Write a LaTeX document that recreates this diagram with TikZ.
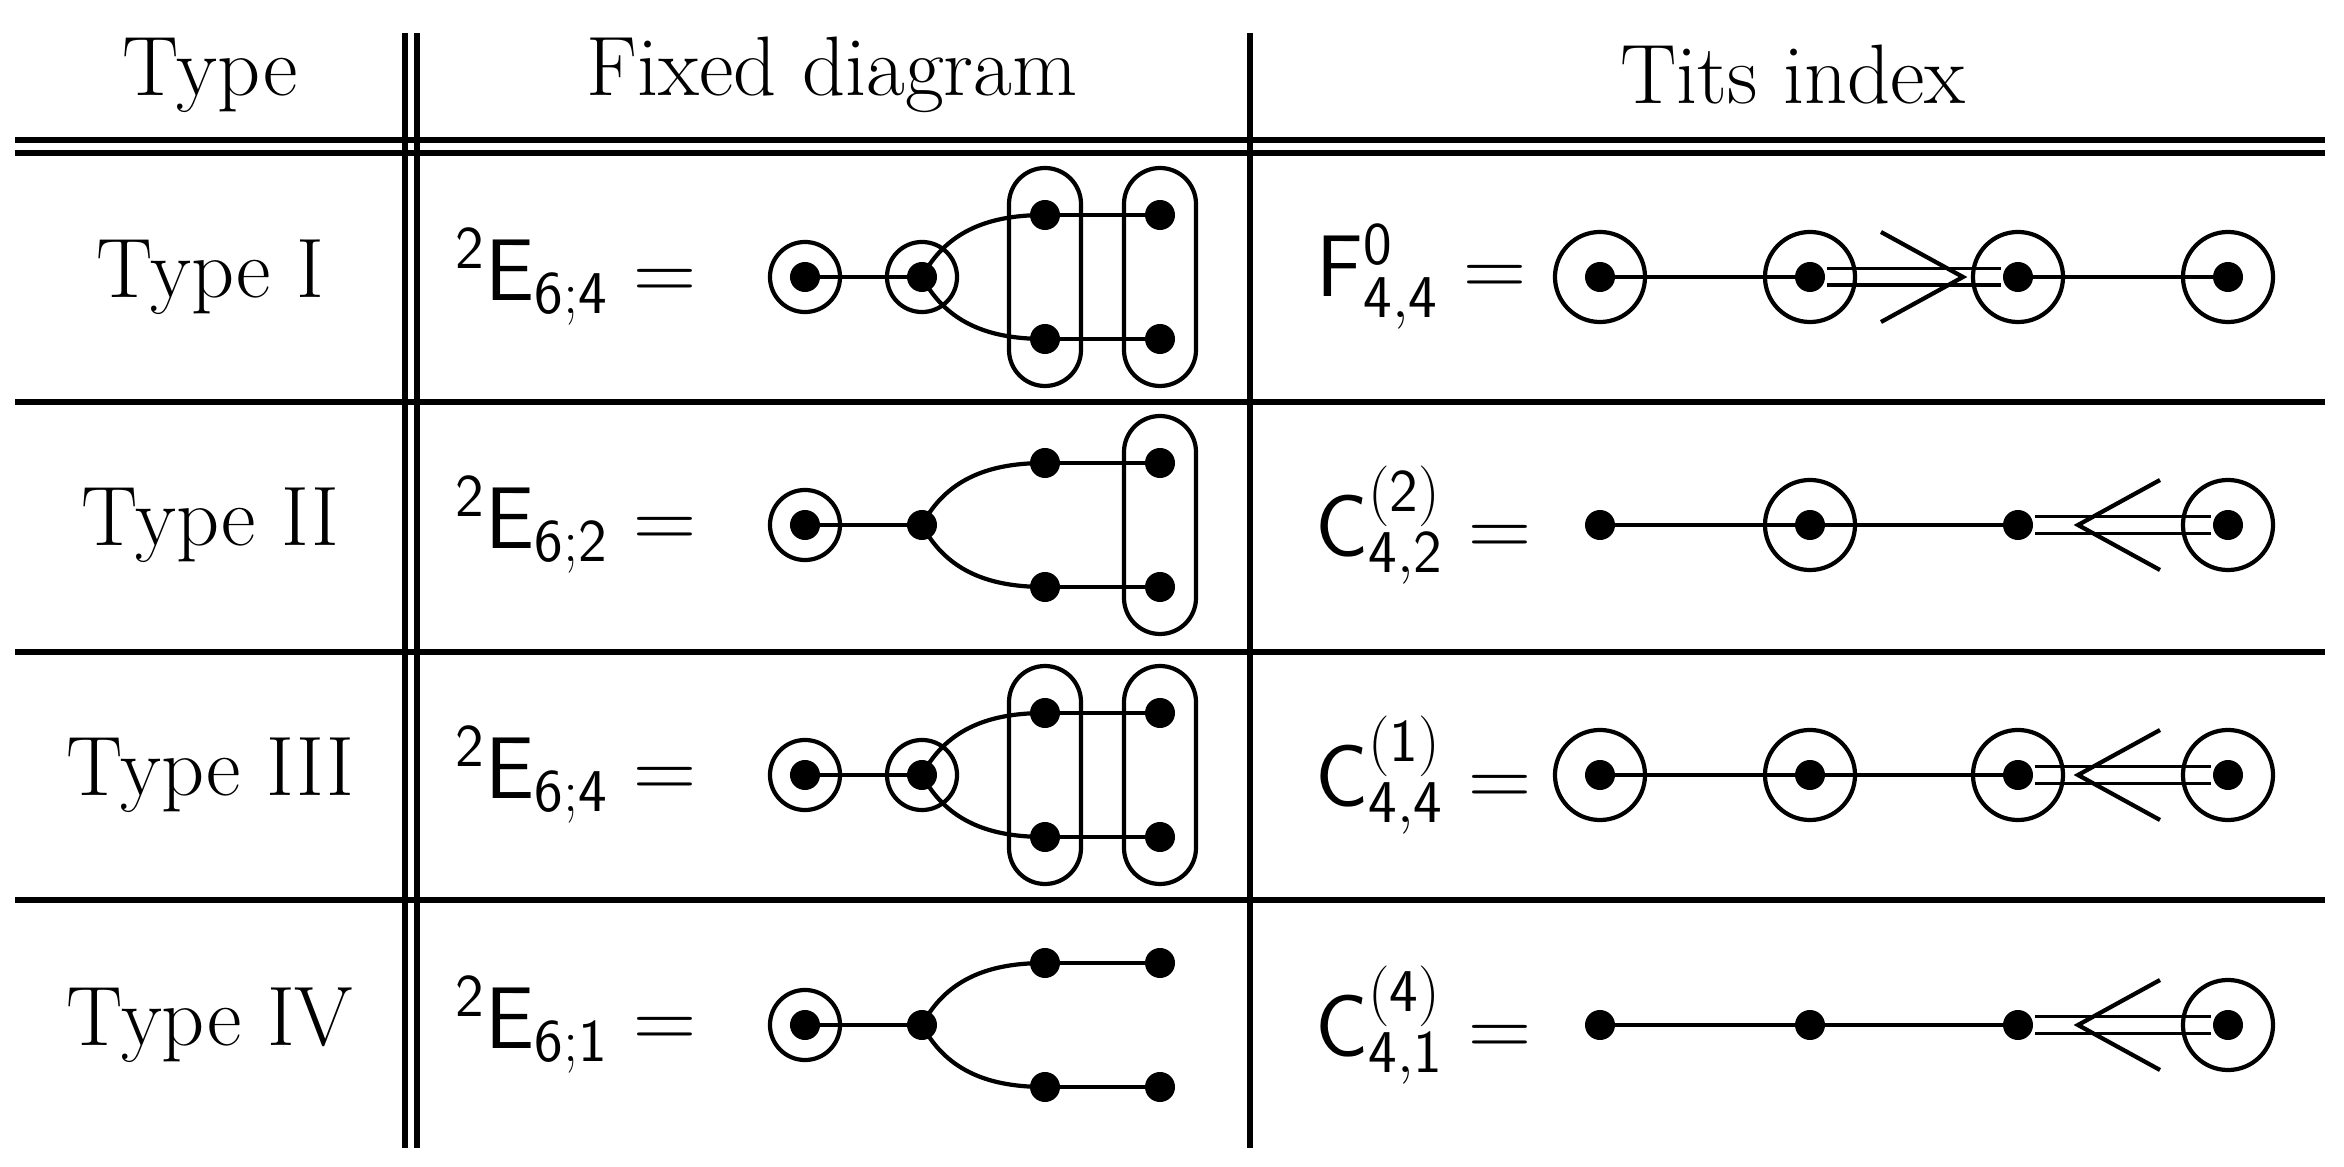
\documentclass[tikz,border=0pt]{standalone}
\begin{document}
\begin{tikzpicture}[x=0.01cm,y=-0.01cm,line width=1.2pt,
  dot/.style={circle,fill,inner sep=0pt,minimum size=0.3cm},
  ringA/.style={circle,draw,inner sep=0pt,minimum size=0.7cm},
  ringB/.style={circle,draw,inner sep=0pt,minimum size=0.9cm},
  txt/.style={font=\fontsize{24}{28}\selectfont},
  rule/.style={line width=1.8pt},
  dbl/.style={double distance=0.13cm,line width=1.1pt}]
\useasboundingbox (0,0) rectangle (2344,1167);
% table rules
\draw[rule] (405,33) -- (405,1148);
\draw[rule] (417,33) -- (417,1148);
\draw[rule] (1250,33) -- (1250,1148);
\draw[rule] (15,140) -- (2325,140);
\draw[rule] (15,153) -- (2325,153);
\foreach \y in {402,652,900} \draw[rule] (15,\y) -- (2325,\y);
% headers
\node[txt] (h1) at (210,75) {Type};
\node[txt] (h2) at (832,75) {Fixed diagram};
\node[txt] (h3) at (1793,75) {Tits index};
% type names
\node[txt] (t1) at (210,277) {Type I};
\node[txt] (t2) at (210,525) {Type II};
\node[txt] (t3) at (210,775) {Type III};
\node[txt] (t4) at (210,1025) {Type IV};
% fixed diagram labels
\node[txt,anchor=east] (l1) at (710,277) {$^{\mathsf{2}}\mathsf{E}_{\mathsf{6;4}}=$};
\node[txt,anchor=east] (l2) at (710,525) {$^{\mathsf{2}}\mathsf{E}_{\mathsf{6;2}}=$};
\node[txt,anchor=east] (l3) at (710,775) {$^{\mathsf{2}}\mathsf{E}_{\mathsf{6;4}}=$};
\node[txt,anchor=east] (l4) at (710,1025) {$^{\mathsf{2}}\mathsf{E}_{\mathsf{6;1}}=$};
% fixed diagrams
\foreach \r/\y/\a/\b/\c in {1/277/1/1/1, 2/525/0/0/1, 3/775/1/1/1, 4/1025/0/0/0}{
  \node[dot] (f\r a) at (805,\y) {};
  \node[dot] (f\r b) at (922,\y) {};
  \node[dot] (f\r c) at (1045,\y-62) {};
  \node[dot] (f\r d) at (1160,\y-62) {};
  \node[dot] (f\r e) at (1045,\y+62) {};
  \node[dot] (f\r f) at (1160,\y+62) {};
  \draw (f\r a.center) circle[radius=0.35cm];
  \draw (f\r a.center) -- (f\r b.center);
  \draw (f\r b.center) to[out=62,in=180] (f\r c.center);
  \draw (f\r b.center) to[out=-62,in=180] (f\r e.center);
  \draw (f\r c.center) -- (f\r d.center);
  \draw (f\r e.center) -- (f\r f.center);
  \ifnum\a=1 \draw (f\r b.center) circle[radius=0.35cm]; \fi
  \ifnum\b=1 \draw[rounded corners=0.36cm] (1009,\y-109) rectangle (1081,\y+109); \fi
  \ifnum\c=1 \draw[rounded corners=0.36cm] (1124,\y-109) rectangle (1196,\y+109); \fi
}
% Tits index labels
\node[txt,anchor=east] (m1) at (1540,277) {$\mathsf{F}^{\mathsf{0}}_{\mathsf{4,4}}=$};
\node[txt,anchor=east] (m2) at (1545,525) {$\mathsf{C}^{\mathsf{(2)}}_{\mathsf{4,2}}=$};
\node[txt,anchor=east] (m3) at (1545,775) {$\mathsf{C}^{\mathsf{(1)}}_{\mathsf{4,4}}=$};
\node[txt,anchor=east] (m4) at (1545,1025) {$\mathsf{C}^{\mathsf{(4)}}_{\mathsf{4,1}}=$};
% Tits diagrams
\foreach \r/\y/\p/\q/\s/\t/\dir in {1/277/1/1/1/1/1, 2/525/0/1/0/1/-1, 3/775/1/1/1/1/-1, 4/1025/0/0/0/1/-1}{
  \node[dot] (g\r a) at (1600,\y) {};
  \node[dot] (g\r b) at (1810,\y) {};
  \node[dot] (g\r c) at (2018,\y) {};
  \node[dot] (g\r d) at (2228,\y) {};
  \draw (g\r a.center) -- (g\r b.center);
  \ifnum\dir=1
    \draw[dbl] (g\r b) -- (g\r c);
    \draw (g\r c.center) -- (g\r d.center);
    \coordinate (k\r) at (1963,\y);
    \draw ([shift={(-82,-45)}]k\r) -- (k\r) -- ([shift={(-82,45)}]k\r);
  \else
    \draw (g\r b.center) -- (g\r c.center);
    \draw[dbl] (g\r c) -- (g\r d);
    \coordinate (k\r) at (2078,\y);
    \draw ([shift={(82,-45)}]k\r) -- (k\r) -- ([shift={(82,45)}]k\r);
  \fi
  \ifnum\p=1 \draw (g\r a.center) circle[radius=0.45cm]; \fi
  \ifnum\q=1 \draw (g\r b.center) circle[radius=0.45cm]; \fi
  \ifnum\s=1 \draw (g\r c.center) circle[radius=0.45cm]; \fi
  \ifnum\t=1 \draw (g\r d.center) circle[radius=0.45cm]; \fi
}
\end{tikzpicture}
\end{document}
